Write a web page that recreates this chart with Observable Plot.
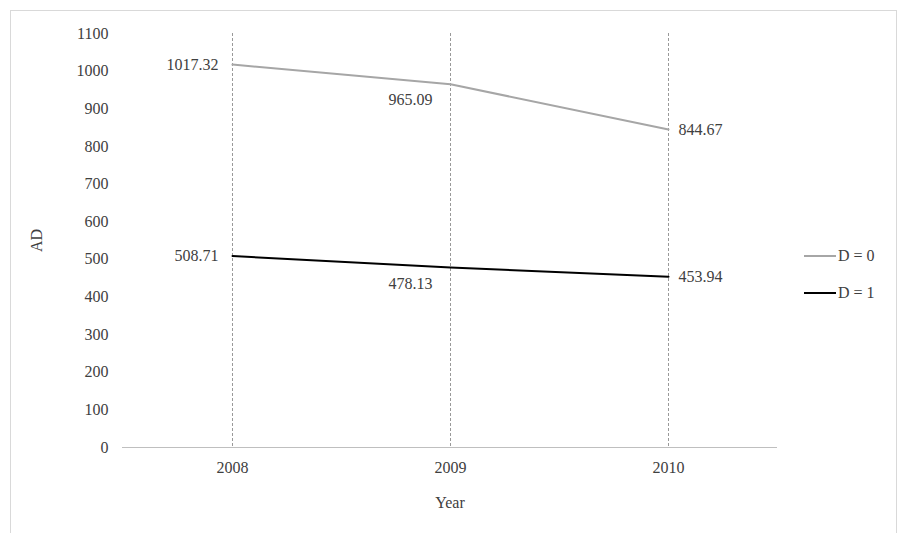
<!DOCTYPE html>
<html><head><meta charset="utf-8">
<script src="https://cdn.jsdelivr.net/npm/d3@7"></script>
<script src="https://cdn.jsdelivr.net/npm/@observablehq/plot@0.6"></script>
<style>
body{margin:0;background:#fff;font-family:"Liberation Serif",serif;}
#wrap{position:relative;width:904px;height:533px;}
#frame{position:absolute;left:10px;top:10px;width:885px;height:530px;border:1px solid #d9d9d9;}
.leg{position:absolute;left:804px;font-size:16px;color:#404040;display:flex;align-items:center;}
.leg span{display:inline-block;width:32px;margin-right:2px;}
</style></head><body>
<div id="wrap"><div id="frame"></div>
<div class="leg" style="top:247px"><span style="border-top:2px solid #a6a6a6"></span>D = 0</div>
<div class="leg" style="top:284px"><span style="border-top:2px solid #000"></span>D = 1</div>
</div>
<script>
const years = ["2008","2009","2010"];
const d0 = [1017.32, 965.09, 844.67];
const d1 = [508.71, 478.13, 453.94];
const yTicks = d3.range(0, 1101, 100);
const rows = [];
years.forEach((y,i)=>{rows.push({year:y,v:d0[i],s:"D = 0"});rows.push({year:y,v:d1[i],s:"D = 1"});});
const a0 = rows.filter(r=>r.s==="D = 0"), a1 = rows.filter(r=>r.s==="D = 1");
const fs = 16;
const lab = (data) => [
  Plot.text(data.filter(d=>d.year==="2008"),{x:"year",y:"v",text:d=>d.v.toFixed(2),dx:-14,textAnchor:"end",fill:"#404040",fontSize:fs}),
  Plot.text(data.filter(d=>d.year==="2009"),{x:"year",y:"v",text:d=>d.v.toFixed(2),dx:-40,dy:16,fill:"#404040",fontSize:fs}),
  Plot.text(data.filter(d=>d.year==="2010"),{x:"year",y:"v",text:d=>d.v.toFixed(2),dx:32,fill:"#404040",fontSize:fs})
];
const chart = Plot.plot({
  width:904,height:533,marginLeft:122,marginRight:127,marginTop:33,marginBottom:86,
  style:{fontFamily:"Liberation Serif",fontSize:"16px",color:"#404040",background:"transparent"},
  x:{type:"point",domain:years,padding:0.5},
  y:{domain:[0,1100]},
  marks:[
    Plot.axisX({tickSize:0,tickPadding:14,fontSize:fs,label:"Year",labelAnchor:"center",labelArrow:"none",labelOffset:60}),
    Plot.axisY(yTicks,{tickSize:0,tickPadding:14,fontSize:fs,tickFormat:d=>String(d),label:"AD",labelAnchor:"center",labelArrow:"none",labelOffset:92}),
    Plot.ruleX(years,{x:d=>d,stroke:"#7f7f7f",strokeDasharray:"3,2",strokeWidth:0.8}),
    Plot.ruleY([0],{stroke:"#bfbfbf"}),
    Plot.line(a0,{x:"year",y:"v",stroke:"#a6a6a6",strokeWidth:2}),
    Plot.line(a1,{x:"year",y:"v",stroke:"#000",strokeWidth:2}),
    ...lab(a0), ...lab(a1)
  ]
});
chart.style.position="absolute";chart.style.left="0";chart.style.top="0";
document.getElementById("wrap").appendChild(chart);
</script></body></html>
